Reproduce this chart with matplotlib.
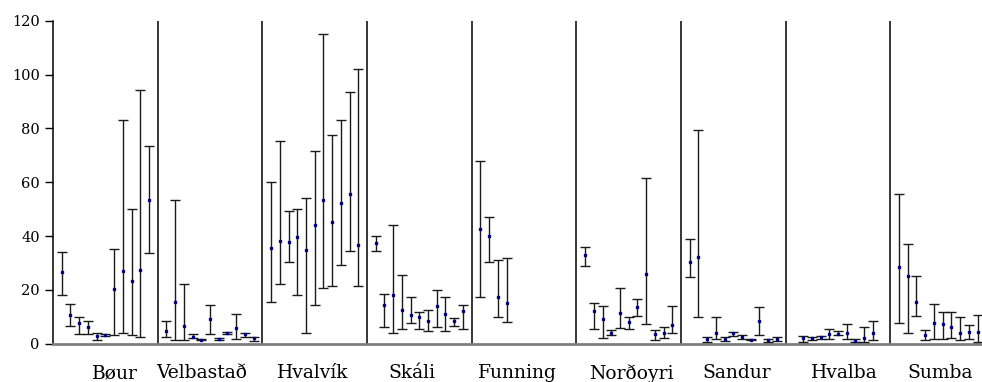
import numpy as np
import matplotlib
matplotlib.use("Agg")
import matplotlib.pyplot as plt

nan = np.nan

sites = ["Bøur", "Velbastað", "Hvalvík", "Skáli", "Funning",
         "Norðoyri", "Sandur", "Hvalba", "Sumba"]

# mean, lower and upper limit per sample (11 slots per site, nan = no sample)
mean = [
    [26.6, 10.8, 7.6, 6.3, 3.0, 3.2, 20.4, 27.1, 23.4, 27.5, 53.4],
    [4.7, 15.5, 6.7, 2.4, 1.5, 9.2, 1.9, 3.8, 5.7, 3.7, 2.1],
    [35.7, 38.3, 37.8, 39.6, 34.8, 44.1, 53.4, 45.2, 52.4, 55.7, 36.7],
    [37.4, 14.5, 18.2, 12.4, 10.7, 10.0, 8.5, 14.1, 11.0, 8.4, 12.1],
    [42.6, 39.9, 17.3, 15.1, nan, nan, nan, nan, nan, nan, nan],
    [32.9, 12.1, 9.0, 4.1, 11.5, 7.9, 13.5, 26.0, 3.5, 4.1, 6.8],
    [30.5, 32.2, 1.9, 4.1, 1.9, 3.8, 2.5, 1.5, 8.5, 1.2, 1.7],
    [nan, 2.2, 2.1, 2.5, 3.7, 3.7, 4.1, 1.1, 2.2, 4.1, nan],
    [28.5, 25.0, 15.5, 3.3, 7.6, 7.2, 6.3, 4.1, 4.5, 4.5, nan],
]
low = [
    [18.0, 6.7, 3.5, 3.5, 1.5, 2.7, 3.1, 4.0, 3.1, 2.5, 33.8],
    [2.6, 1.4, 1.4, 2.0, 1.2, 3.5, 1.5, 3.5, 1.7, 2.5, 1.1],
    [15.4, 22.3, 30.3, 18.1, 3.8, 14.4, 20.6, 21.5, 29.2, 34.6, 21.5],
    [34.6, 6.3, 3.8, 5.6, 7.8, 5.6, 4.6, 6.3, 4.6, 6.7, 5.6],
    [17.5, 30.3, 9.9, 7.9, nan, nan, nan, nan, nan, nan, nan],
    [29.0, 5.6, 2.2, 3.2, 5.9, 5.6, 10.2, 7.2, 1.5, 2.2, 4.0],
    [24.8, 9.8, 0.7, 1.7, 1.1, 2.8, 1.9, 1.4, 3.2, 0.7, 1.1],
    [nan, 0.7, 1.5, 1.9, 1.9, 3.1, 1.9, 0.5, 0.7, 1.4, nan],
    [7.6, 4.0, 10.2, 1.2, 1.7, 1.7, 2.1, 1.2, 1.7, 0.7, nan],
]
high = [
    [34.2, 14.9, 10.0, 8.5, 4.1, 3.5, 35.0, 83.1, 50.2, 94.1, 73.3],
    [8.3, 53.3, 22.0, 3.5, 1.9, 14.2, 2.2, 4.2, 10.9, 4.1, 2.6],
    [60.2, 75.2, 49.2, 50.2, 54.2, 71.5, 115.0, 77.6, 83.0, 93.5, 102.2],
    [40.1, 18.5, 44.2, 25.4, 17.5, 11.9, 12.6, 20.1, 17.5, 9.4, 14.2],
    [68.0, 47.1, 31.0, 31.7, nan, nan, nan, nan, nan, nan, nan],
    [35.9, 15.2, 14.0, 5.2, 20.6, 9.8, 16.7, 61.7, 5.2, 6.3, 14.0],
    [38.8, 79.5, 2.6, 9.8, 2.5, 4.2, 3.1, 1.6, 13.6, 1.6, 2.6],
    [nan, 2.7, 2.5, 2.8, 5.6, 4.7, 7.4, 1.9, 6.1, 8.3, nan],
    [55.5, 36.9, 25.1, 5.2, 14.9, 11.9, 11.9, 9.8, 6.8, 10.5, nan],
]
label_shift = [1.1, -1.0, -0.2, -0.8, -0.7, 0.3, 0.4, 0.7, -0.3]
yticks = [0, 20, 40, 60, 80, 100, 120]

slots = 12
W, H = 982, 382
fig = plt.figure(figsize=(W / 100, H / 100), dpi=100)
ax = fig.add_axes([53 / W, 38.3 / H, 942 / W, 323 / H])

for g, name in enumerate(sites):
    m = np.array(mean[g])
    lo = np.array(low[g])
    hi = np.array(high[g])
    x = g * slots + 1 + np.arange(len(m))
    ok = ~np.isnan(m)
    ax.errorbar(x[ok], m[ok], yerr=[m[ok] - lo[ok], hi[ok] - m[ok]],
                fmt="s", ms=2.0, mfc="#000080", mec="#000080",
                ecolor="#1a1a1a", elinewidth=1.0, capsize=3.6, capthick=1.0,
                zorder=3)
    if g > 0:
        ax.axvline(g * slots, color="black", lw=1.1)

ax.set_xlim(0, len(sites) * slots)
ax.set_ylim(0, 120)
ax.set_yticks(yticks)
ax.set_yticklabels([str(v) for v in yticks], family="DejaVu Serif", fontsize=10.5)
ax.tick_params(axis="y", direction="out", length=6, width=1, pad=3.5)

ax.set_xticks([])
for g, name in enumerate(sites):
    ax.text(g * slots + slots / 2 + label_shift[g], -7.6, name,
            ha="center", va="top", family="DejaVu Serif", fontsize=13.5,
            clip_on=False)

for s in ["top", "right"]:
    ax.spines[s].set_visible(False)
ax.spines["left"].set_linewidth(1.1)
ax.spines["bottom"].set_color("#808080")
ax.spines["bottom"].set_linewidth(2)

fig.savefig("out.png", dpi=100)
